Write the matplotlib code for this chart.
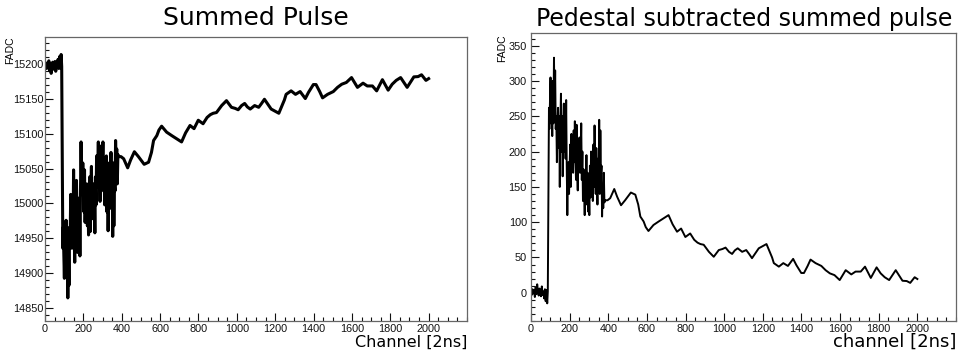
"""Summed pulse / pedestal subtracted pulse (ROOT-style canvas, two pads)."""
import matplotlib
matplotlib.use("Agg")
import matplotlib.pyplot as plt
import numpy as np
from matplotlib.ticker import MultipleLocator, FixedLocator

# --- data (channel [2ns], pedestal-subtracted FADC) ---
PEDESTAL = 15198

ch_pre = [0, 4, 8, 12, 16, 20, 24, 28, 32, 36, 40, 44, 48, 52, 56, 60, 64, 68, 72, 76, 80, 84,
          87, 89, 91, 93]
sub_pre = [2, -3, 5, -1, 4, -6, 8, -2, 12, 3, -4, 6, 0, -5, 9, -3, 2, -8, 5, -12, 4, -15,
           2, 100, 175, 262]

ch_noisy = [95, 98, 101, 104, 107, 110, 113, 116, 119, 122, 125, 128, 131, 134, 137, 140, 143,
            146, 149, 152, 155, 158, 161, 164, 167, 170, 173, 176, 179, 182, 185, 188, 191, 194,
            197, 200, 203, 206, 209, 212, 215, 218, 221, 224, 227, 230, 233, 236, 239, 242, 245,
            248, 251, 254, 257, 260, 263, 266, 269, 272, 275, 278, 281, 284, 287, 290, 293, 296,
            299, 302, 305, 308, 311, 314, 317, 320, 323, 326, 329, 332, 335, 338, 341, 344, 347,
            350, 353, 356, 359, 362, 365, 368, 371, 374, 377, 380, 383]
sub_noisy = [232, 268, 305, 240, 285, 222, 300, 240, 333, 250,
             315, 232, 250, 185, 235, 262, 205, 250, 150, 240,
             282, 200, 250, 165, 230, 268, 200, 258, 190, 273,
             180, 110, 170, 185, 140, 180, 210, 150, 225, 185,
             200, 170, 230, 185, 243, 190, 160, 238, 175, 145,
             215, 195, 220, 170, 190, 240, 160, 200, 130, 175,
             150, 110, 165, 140, 195, 125, 170, 115, 150, 110,
             180, 135, 200, 160, 175, 130, 210, 150, 237, 175,
             140, 205, 160, 125, 190, 150, 245, 140, 230, 165,
             180, 108, 150, 120, 170, 128, 131]

ch_tail = [396, 410, 431, 446, 466, 487, 517, 540, 555, 566,
           583, 594, 608, 634, 661, 684, 712, 733, 756, 777,
           799, 824, 845, 862, 877, 894, 921, 946, 972, 991,
           1007, 1025, 1041, 1055, 1070, 1093, 1114, 1129, 1144, 1164,
           1179, 1199, 1219, 1233, 1248, 1257, 1283, 1306, 1330, 1357,
           1374, 1399, 1413, 1432, 1447, 1473, 1503, 1525, 1547, 1571,
           1598, 1629, 1658, 1680, 1707, 1729, 1759, 1789, 1810, 1831,
           1854, 1888, 1923, 1945, 1963, 1986, 2000]
sub_tail = [131, 134, 147, 136, 124, 131, 142, 139, 125, 108,
            101, 93, 87.5, 96, 101, 105, 110, 97, 86.5, 91,
            79, 84, 75, 71, 69, 68, 58, 51, 60.5, 62,
            64, 58, 55, 60, 63, 58, 60.5, 55, 49, 57,
            63, 66, 69, 60, 50, 42, 37, 42, 38, 48,
            39, 28, 28, 38, 47, 42, 38, 32, 27.5, 25,
            18, 32, 26, 30, 30, 37, 21, 36, 27.5, 22,
            18, 32, 17, 16.6, 14, 22, 19.5]

channel = np.array(ch_pre + ch_noisy + ch_tail)
subtracted = np.array(sub_pre + sub_noisy + sub_tail, dtype=float)
summed = PEDESTAL - subtracted

TICK_FONT = "Liberation Sans"


def style_axes(ax, ylim, ymajor, yminor, ypad):
    ax.set_xlim(0, 2200)
    ax.set_ylim(*ylim)
    ax.xaxis.set_major_locator(FixedLocator(np.arange(0, 2001, 200)))
    ax.xaxis.set_minor_locator(MultipleLocator(50))
    ax.yaxis.set_major_locator(MultipleLocator(ymajor))
    ax.yaxis.set_minor_locator(MultipleLocator(yminor))
    ax.tick_params(which="both", direction="in", top=False, right=False, colors="#111111",
                   labelsize=7.8)
    ax.tick_params(which="major", length=5.5, width=0.8)
    ax.tick_params(which="minor", length=3, width=0.8)
    ax.tick_params(axis="x", pad=2.5)
    ax.tick_params(axis="y", pad=ypad)
    for lab in ax.get_xticklabels() + ax.get_yticklabels():
        lab.set_family(TICK_FONT)
    for sp in ax.spines.values():
        sp.set_color("#666666")
        sp.set_linewidth(0.9)


fig = plt.figure(figsize=(9.61, 3.56), dpi=100)
W, H = 961, 356

# left pad: raw summed pulse
ax1 = fig.add_axes([45 / W, 1 - 321 / H, (467 - 45) / W, (321 - 37) / H])
ax1.plot(channel, summed, color="black", lw=2.2, solid_joinstyle="round")
style_axes(ax1, (14832, 15238), 50, 10, 1.0)
fig.text(256 / W, 1 - 18 / H, "Summed Pulse", ha="center", va="center", fontsize=18,
         family="DejaVu Sans")
fig.text(467 / W, 1 - 342 / H, "Channel [2ns]", ha="right", va="center", fontsize=11.5,
         family="DejaVu Sans")
fig.text(10 / W, 1 - 36 / H, "FADC", rotation=90, ha="center", va="top", fontsize=7.5,
         family=TICK_FONT)

# right pad: pedestal subtracted
ax2 = fig.add_axes([531 / W, 1 - 321 / H, (956 - 531) / W, (321 - 33) / H])
ax2.plot(channel, subtracted, color="black", lw=1.4, solid_joinstyle="round")
style_axes(ax2, (-40, 368), 50, 10, 3.0)
fig.text(744 / W, 1 - 19 / H, "Pedestal subtracted summed pulse", ha="center", va="center",
         fontsize=17, family="DejaVu Sans")
fig.text(956 / W, 1 - 342 / H, "channel [2ns]", ha="right", va="center", fontsize=13,
         family="DejaVu Sans")
fig.text(502 / W, 1 - 34 / H, "FADC", rotation=90, ha="center", va="top", fontsize=7.5,
         family=TICK_FONT)

fig.savefig("out.png", dpi=100)
